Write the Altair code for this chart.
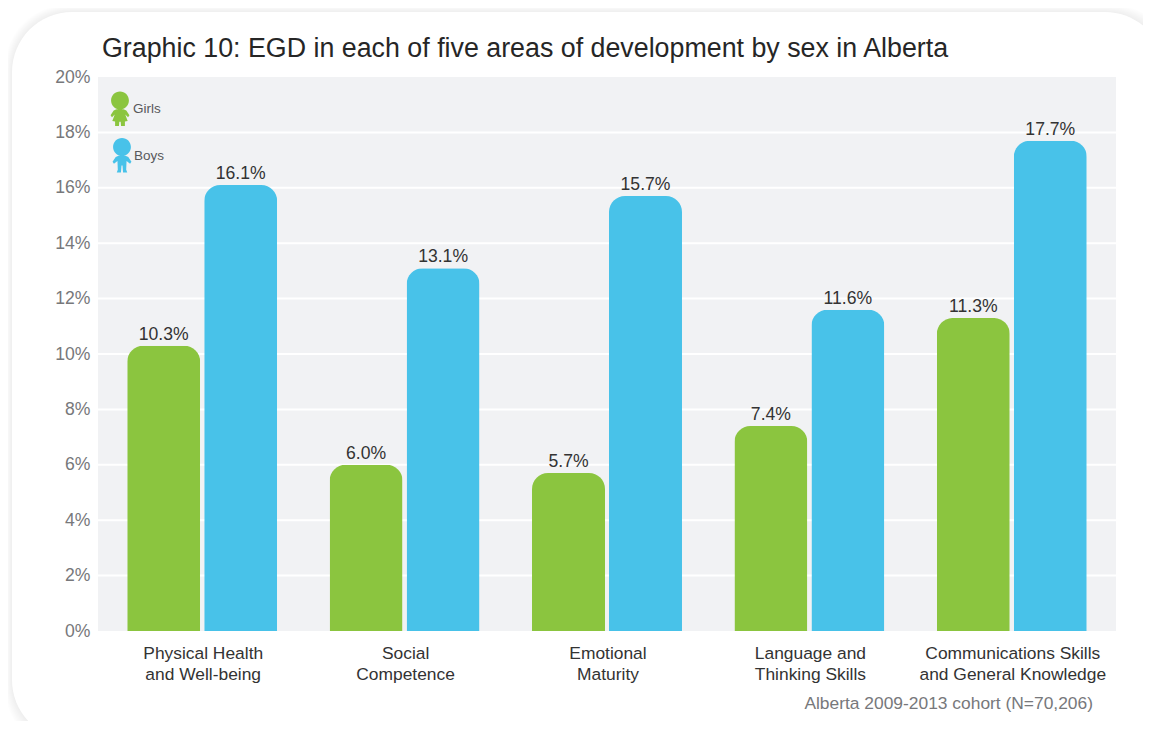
import altair as alt
import pandas as pd

categories = ["Physical Health|and Well-being", "Social|Competence", "Emotional|Maturity",
              "Language and|Thinking Skills", "Communications Skills|and General Knowledge"]
girls = [10.3, 6.0, 5.7, 7.4, 11.3]
boys = [16.1, 13.1, 15.7, 11.6, 17.7]
ticks = [2, 4, 6, 8, 10, 12, 14, 16, 18]
axis_ticks = [0, 2, 4, 6, 8, 10, 12, 14, 16, 18, 20]
sexes = ["Girls", "Boys"]
colors = ["#8BC53F", "#48C2E9"]
title_text = "Graphic 10: EGD in each of five areas of development by sex in Alberta"
source_text = "Alberta 2009-2013 cohort (N=70,206)"

rows = []
for c, g, b in zip(categories, girls, boys):
    rows.append({"cat": c, "sex": "Girls", "v": g})
    rows.append({"cat": c, "sex": "Boys", "v": b})
df = pd.DataFrame(rows)

W, H = 1018, 554
FONT = "Liberation Sans"
one = alt.Data(values=[{"a": 0}])

GIRL = ("M0,-0.97 A0.51,0.51 0 1 1 -0.001,-0.97 Z "
        "M-0.2,0.04 L0.2,0.04 L0.36,0.12 L0.54,0.38 L0.46,0.5 L0.3,0.34 "
        "L0.44,0.72 L0.28,0.74 L0.28,1 L0.06,1 L0.04,0.76 L-0.04,0.76 L-0.06,1 L-0.28,1 L-0.28,0.74 "
        "L-0.44,0.72 L-0.3,0.34 L-0.46,0.5 L-0.54,0.38 L-0.36,0.12 Z")
BOY = ("M0,-0.97 A0.51,0.51 0 1 1 -0.001,-0.97 Z "
       "M-0.2,0.04 L0.2,0.04 L0.36,0.12 L0.54,0.38 L0.46,0.5 L0.26,0.34 "
       "L0.24,0.84 L0.3,1 L0.06,1 L0.03,0.6 L-0.03,0.6 L-0.06,1 L-0.3,1 L-0.24,0.84 "
       "L-0.26,0.34 L-0.46,0.5 L-0.54,0.38 L-0.36,0.12 Z")

y_scale = alt.Scale(domain=[0, 20], nice=False)
x_enc = alt.X("cat:N", sort=categories, title=None,
              scale=alt.Scale(range=[3, 1015], paddingInner=0.259, paddingOuter=0.1295),
              axis=alt.Axis(labelExpr="split(datum.label, '|')", labelAngle=0, labelFont=FONT,
                            labelFontSize=17.4, labelColor="#333333", labelPadding=13, labelLineHeight=21,
                            labelOffset=1, domain=False, ticks=False, grid=False, zindex=1, labelLimit=300))
off_enc = alt.XOffset("sex:N", sort=sexes, scale=alt.Scale(paddingInner=0.052, paddingOuter=0))
y_axis = alt.Axis(values=axis_ticks, labelExpr="datum.value + '%'",
                  labelFont=FONT, labelFontSize=17.6, labelColor="#77787B", labelPadding=8,
                  domain=False, ticks=False, grid=False, zindex=1)

layers = []
# soft shadow of the rounded card, leaning towards the lower right
for i in range(8, 0, -1):
    layers.append(alt.Chart(one).mark_rect(cornerRadius=60, fill="#000000", fillOpacity=0.007).encode(
        x=alt.value(-86 - i * 0.8), x2=alt.value(1067 + i * 1.2),
        y=alt.value(-65 - i * 0.8), y2=alt.value(663 + i * 1.2)))
layers.append(alt.Chart(one).mark_rect(cornerRadius=60, fill="#ffffff").encode(
    x=alt.value(-86), x2=alt.value(1067), y=alt.value(-65), y2=alt.value(663)))
layers.append(alt.Chart(one).mark_rect(fill="#F1F2F4").encode(
    x=alt.value(0), x2=alt.value(W), y=alt.value(0), y2=alt.value(H)))
layers.append(alt.Chart(pd.DataFrame({"t": ticks})).mark_rule(color="#ffffff", strokeWidth=2).encode(
    y=alt.Y("t:Q", scale=y_scale, axis=y_axis, title=None),
    x=alt.value(0), x2=alt.value(W)))
layers.append(alt.Chart(df).mark_bar(cornerRadiusTopLeft=16, cornerRadiusTopRight=16, size=73).encode(
    x=x_enc, xOffset=off_enc, y=alt.Y("v:Q", scale=y_scale, title=None, axis=y_axis),
    color=alt.Color("sex:N", sort=sexes, scale=alt.Scale(domain=sexes, range=colors), legend=None)))
layers.append(alt.Chart(df).transform_calculate(lbl="format(datum.v,'.1f')+'%'").mark_text(
    font=FONT, fontSize=17.6, color="#333333", baseline="bottom", dy=-2).encode(
    x=alt.X("cat:N", sort=categories), xOffset=off_enc,
    y=alt.Y("v:Q", scale=y_scale), text="lbl:N"))
# legend
for shape, col, label, ix, iy, tx in [(GIRL, colors[0], sexes[0], 22, 31.5, 35), (BOY, colors[1], sexes[1], 24, 78, 36)]:
    layers.append(alt.Chart(one).mark_point(shape=shape, filled=True, fill=col, opacity=1, size=1225, strokeWidth=0).encode(
        x=alt.value(ix), y=alt.value(iy)))
    layers.append(alt.Chart(one).mark_text(text=label, font=FONT, fontSize=13.5, color="#58595B", align="left").encode(
        x=alt.value(tx), y=alt.value(iy + 0.5)))
layers.append(alt.Chart(one).mark_text(text=source_text, font=FONT, fontSize=17.4,
                                       color="#77787B", align="right").encode(
    x=alt.value(995), y=alt.value(627)))
layers.append(alt.Chart(one).mark_text(text=title_text, font=FONT, fontSize=26.8,
                                       color="#262626", align="left", baseline="alphabetic").encode(
    x=alt.value(4), y=alt.value(-20)))

chart = alt.layer(*layers).properties(
    width=W, height=H,
    padding={"left": 90, "top": 69, "right": 27, "bottom": 90},
    autosize=alt.AutoSizeParams(type="none"),
    background="#ffffff",
).configure_view(stroke=None)

chart.save("out.html", embed_options={"renderer": "svg", "actions": False})
